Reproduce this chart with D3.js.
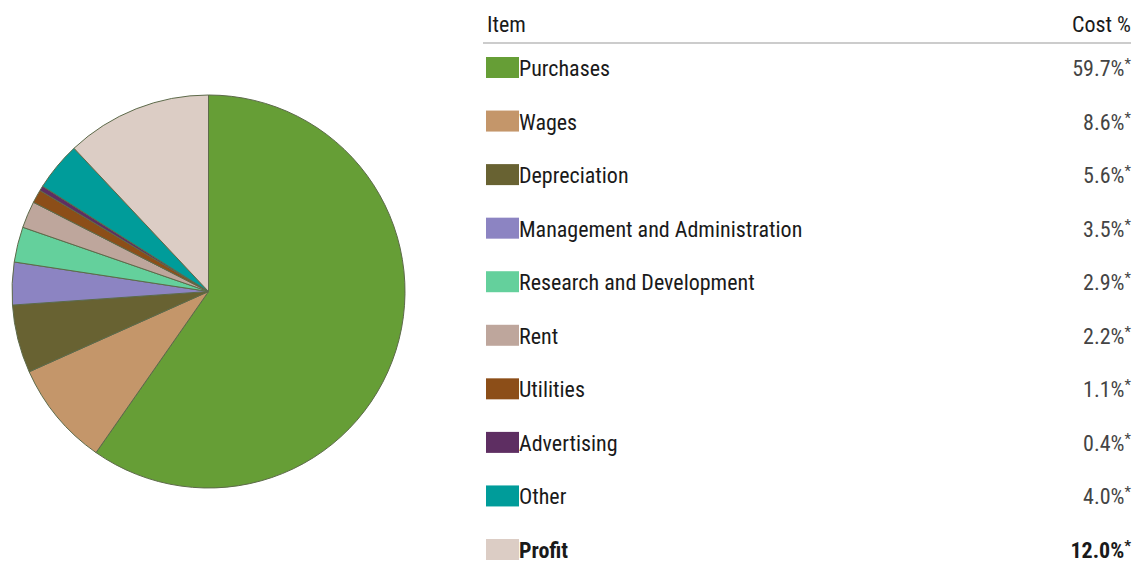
<!DOCTYPE html>
<html>
<head>
<meta charset="utf-8">
<script src="https://cdn.jsdelivr.net/npm/d3@7"></script>
<style>
  html, body { margin: 0; padding: 0; background: #fff; }
  svg { display: block; }
  text { font-family: "Liberation Sans Narrow", "Arial Narrow", "Roboto Condensed", sans-serif; }
</style>
</head>
<body>
<svg id="chart" width="1132" height="562"></svg>
<script>
// Cost breakdown: items, shares (%) and fill colours
const items = ["Purchases", "Wages", "Depreciation", "Management and Administration",
  "Research and Development", "Rent", "Utilities", "Advertising", "Other", "Profit"];
const costs = [59.7, 8.6, 5.6, 3.5, 2.9, 2.2, 1.1, 0.4, 4.0, 12.0];
const colors = ["#669e36", "#c4966a", "#686232", "#8c84c2", "#64d09c",
  "#bea69c", "#8c4e18", "#5e2e62", "#009c9a", "#dccdc5"];
const headers = ["Item", "Cost %"];

const svg = d3.select("#chart");

// ---- Pie ----
const cx = 208.5, cy = 291.5, radius = 196.5;
const pie = d3.pie().sort(null).value(d => d.value);
const arc = d3.arc().innerRadius(0).outerRadius(radius);
const data = items.map((name, i) => ({ name, value: costs[i], color: colors[i] }));

svg.append("g")
  .attr("transform", `translate(${cx},${cy})`)
  .selectAll("path")
  .data(pie(data))
  .join("path")
  .attr("d", arc)
  .attr("fill", d => d.data.color)
  .attr("stroke", "#5d6a4a")
  .attr("stroke-width", 1)
  .attr("stroke-linejoin", "round");

// ---- Legend table ----
const left = 487, right = 1131, lineLeft = 483;
const fontSize = 22;
const rowY = d3.scaleLinear().domain([0, items.length - 1]).range([67.5, 549.5]);
const fmt = d3.format(".1f");

const table = svg.append("g");
table.append("text")
  .attr("x", left).attr("y", 32)
  .attr("font-size", fontSize).attr("fill", "#1a1a1a")
  .text(headers[0]);
table.append("text")
  .attr("x", right).attr("y", 32)
  .attr("text-anchor", "end")
  .attr("font-size", fontSize).attr("fill", "#1a1a1a")
  .text(headers[1]);
table.append("line")
  .attr("x1", lineLeft).attr("x2", right)
  .attr("y1", 43).attr("y2", 43)
  .attr("stroke", "#cccccc").attr("stroke-width", 2);

const rows = table.selectAll("g.row")
  .data(data)
  .join("g")
  .attr("class", "row")
  .attr("transform", (d, i) => `translate(0,${rowY(i)})`);

rows.append("rect")
  .attr("x", 486).attr("y", -10.5)
  .attr("width", 33).attr("height", 21)
  .attr("fill", d => d.color);

const isLast = (d, i) => i === items.length - 1;

rows.append("text")
  .attr("x", 519).attr("y", 8.5)
  .attr("font-size", fontSize)
  .attr("fill", "#1a1a1a")
  .attr("font-weight", (d, i) => isLast(d, i) ? "bold" : "normal")
  .text(d => d.name);

const val = rows.append("text")
  .attr("x", right).attr("y", 8.5)
  .attr("text-anchor", "end")
  .attr("font-size", fontSize)
  .attr("fill", (d, i) => isLast(d, i) ? "#1a1a1a" : "#444")
  .attr("font-weight", (d, i) => isLast(d, i) ? "bold" : "normal");
val.append("tspan").text(d => fmt(d.value) + "%");
val.append("tspan").attr("font-size", 15).attr("dy", -7).text("*");
</script>
</body>
</html>
